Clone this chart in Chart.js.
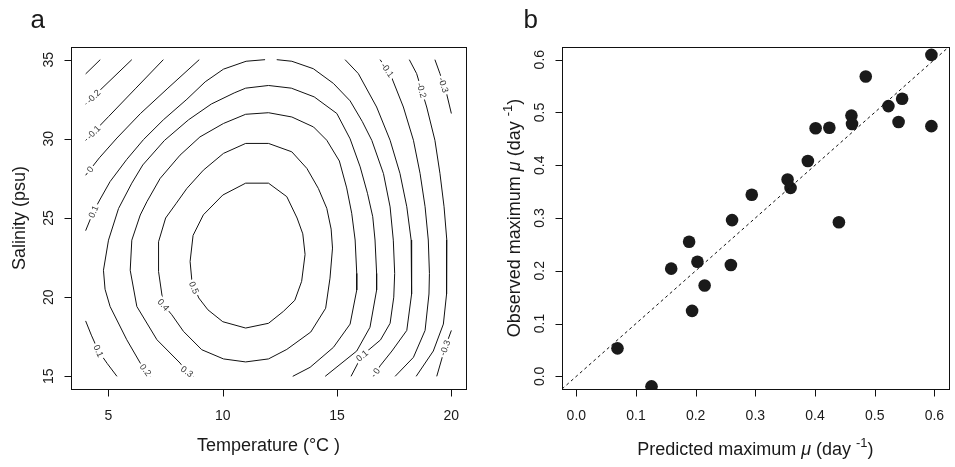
<!DOCTYPE html>
<html><head><meta charset="utf-8">
<script src="https://cdn.jsdelivr.net/npm/chart.js@4.4.0/dist/chart.umd.min.js"></script>
<style>
html,body{margin:0;padding:0;background:#fff}
body{width:955px;height:467px;overflow:hidden;position:relative}
canvas{position:absolute;top:0}
</style>
</head><body>
<canvas id="ca" width="490" height="467" style="left:0px"></canvas>
<canvas id="cb" width="465" height="467" style="left:490px"></canvas>
<script>
// ---------- Panel a: contour lines (Temperature, Salinity) ----------
const cM03a = [[4.0,34.1],[4.64,35.0]];
const cM02a = [[4.0,32.2],[6.02,35.0]];
const cM01a = [[4.0,29.9],[5.0,31.4],[6.2,33.2],[7.4,35.0]];
const c00a  = [[4.0,27.7],[4.6,28.8],[5.37,30.05],[6.4,31.6],[7.6,33.2],[8.97,35.0]];
const c01a  = [[4.0,24.2],[4.34,25.4],[4.64,26.2],[5.07,27.3],[5.8,28.7],[6.53,29.95],[7.4,31.2],[8.43,32.5],[9.23,33.6],[10.03,34.4],[11.02,34.9],[11.85,35.0]];
const c01b  = [[12.36,35.0],[13.02,34.9],[13.96,34.43],[14.84,33.5],[15.57,32.4],[16.1,31.1],[16.52,29.9],[17.03,27.8],[17.32,25.7],[17.46,23.6],[17.52,21.5],[17.48,20.0],[17.32,18.35],[16.9,17.3],[16.08,16.3],[15.61,15.0]];
const c01c  = [[4.0,18.5],[4.25,17.6],[4.56,16.6],[4.95,15.8],[5.37,15.0]];
const c02   = [[6.83,15.0],[6.39,15.84],[5.8,17.31],[5.07,19.41],[4.85,20.5],[4.78,21.7],[5.0,23.6],[5.44,25.6],[6.02,27.2],[6.5,28.35],[7.45,29.9],[8.5,31.2],[9.5,32.2],[10.5,32.9],[11.0,33.2],[12.0,33.37],[13.0,33.2],[14.0,32.65],[14.99,31.6],[15.57,30.0],[16.01,28.23],[16.33,26.56],[16.56,25.08],[16.66,23.61],[16.73,21.5],[16.73,20.45],[16.44,18.1],[15.86,16.6],[14.48,15.0]];
const c03   = [[8.72,15.0],[8.43,15.3],[8.13,15.84],[7.12,17.31],[6.24,19.41],[5.95,21.7],[6.02,23.6],[6.39,25.19],[6.68,26.03],[7.26,27.5],[8.13,28.97],[9.0,30.12],[10.03,30.97],[11.0,31.55],[12.0,31.65],[13.02,31.38],[13.97,30.75],[14.55,29.91],[15.1,28.6],[15.42,26.9],[15.64,25.3],[15.79,23.61],[15.86,21.5],[15.86,20.45],[15.57,18.3],[14.84,16.83],[13.82,15.57],[13.06,15.0]];
const c04   = [[11.0,29.71],[12.0,29.71],[13.02,29.18],[13.68,28.13],[14.18,26.87],[14.55,25.61],[14.74,24.3],[14.8,23.1],[14.69,21.2],[14.5,19.3],[13.85,17.8],[12.8,16.7],[12.0,16.1],[11.0,15.91],[10.03,16.1],[9.08,16.68],[8.28,17.84],[7.77,18.89],[7.4,19.52],[7.19,21.62],[7.19,23.5],[7.5,25.0],[7.95,25.9],[8.43,26.87],[9.15,28.02],[10.03,29.08],[11.0,29.71]];
const c05   = [[11.0,27.2],[12.0,27.2],[12.8,26.35],[13.25,25.0],[13.5,24.0],[13.6,22.7],[13.45,21.0],[13.15,19.8],[12.65,19.1],[12.0,18.35],[11.0,18.05],[10.0,18.45],[9.35,19.2],[8.95,19.95],[8.65,21.0],[8.57,22.25],[8.7,23.9],[9.15,25.2],[10.0,26.45],[11.0,27.2]];
const c00b  = [[15.35,35.0],[15.93,34.12],[16.73,32.01],[17.32,29.91],[17.75,27.82],[18.05,25.71],[18.24,23.61],[18.27,21.5],[18.25,20.2],[18.05,17.9],[17.4,16.6],[16.88,15.66],[16.59,15.0]];
const cM01b = [[16.88,35.0],[17.32,34.12],[17.9,32.01],[18.34,29.91],[18.63,27.82],[18.85,25.71],[18.99,23.61],[19.04,21.5],[19.02,20.2],[18.85,17.9],[18.34,16.2],[17.54,15.0]];
const cM02b = [[18.16,35.0],[18.48,34.12],[18.92,32.01],[19.28,29.91],[19.5,27.82],[19.68,25.71],[19.8,23.61],[19.8,21.5],[19.78,20.2],[19.65,18.3],[19.21,16.6],[18.46,15.0]];
const cM03b = [[19.28,35.0],[19.5,34.12],[19.8,32.8],[20.0,31.6]];
const cM03c = [[20.0,17.9],[19.72,16.8],[19.36,15.0]];

const contourSegments = [cM03a,cM02a,cM01a,c00a,c01a,c01b,c01c,c02,c03,c04,c05,c00b,cM01b,cM02b,cM03b,cM03c];

// contour labels: text, position (T,S), segment index
const labelText = ["-0.2","-0.1","0","0.1","0.5","0.4","0.3","0.2","0.1","0.1","0","-0.3","-0.1","-0.2","-0.3"];
const labelT    = [4.34,4.34,4.2,4.34,8.74,7.4,8.43,6.62,4.56,16.1,16.73,19.72,17.2,18.7,19.66];
const labelS    = [32.67,30.41,28.07,25.4,20.6,19.52,15.3,15.4,16.6,16.3,15.33,16.8,34.35,33.07,33.4];
const labelSeg  = [1,2,3,4,10,9,8,7,6,5,11,15,12,13,14];

const tempTicks = [5,10,15,20];
const salTicks  = [15,20,25,30,35];
const tempRange = [3.36,20.64];
const salRange  = [14.2,35.8];

// ---------- Panel b: observed vs predicted ----------
const predicted = [0.595,0.485,0.546,0.523,0.540,0.595,0.461,0.462,0.401,0.424,0.388,0.354,0.359,0.294,0.261,0.440,0.189,0.203,0.159,0.259,0.215,0.194,0.069,0.126];
const observed  = [0.609,0.568,0.526,0.512,0.482,0.474,0.494,0.478,0.470,0.471,0.408,0.373,0.357,0.344,0.296,0.292,0.255,0.217,0.204,0.211,0.172,0.124,0.053,-0.019];
const muTicks = [0,0.1,0.2,0.3,0.4,0.5,0.6];
const muTickLabels = ["0.0","0.1","0.2","0.3","0.4","0.5","0.6"];
const muRange = [-0.024,0.624];

const FONT = '"Liberation Sans", Arial, Helvetica, sans-serif';

function drawRich(ctx, parts, x, y, align){
  // parts: [text, style] with style 'n' normal, 'i' italic, 's' superscript
  const size = 18;
  const fontFor = s => s==='i' ? 'italic '+size+'px '+FONT : (s==='s' ? (size*0.72)+'px '+FONT : size+'px '+FONT);
  let total = 0;
  parts.forEach(p => { ctx.font = fontFor(p[1]); total += ctx.measureText(p[0]).width; });
  let cx = align==='center' ? x - total/2 : x;
  ctx.textAlign = 'left';
  parts.forEach(p => {
    ctx.font = fontFor(p[1]);
    ctx.fillText(p[0], cx, p[1]==='s' ? y - size*0.42 : y);
    cx += ctx.measureText(p[0]).width;
  });
}

function rAxes(opts){
  return {
    id: 'rAxes',
    afterDraw(chart){
      const ctx = chart.ctx, a = chart.chartArea, xs = chart.scales.x, ys = chart.scales.y;
      ctx.save();
      ctx.strokeStyle = '#111'; ctx.lineWidth = 1;
      ctx.strokeRect(Math.round(a.left)+0.5, Math.round(a.top)+0.5, Math.round(a.right-a.left), Math.round(a.bottom-a.top));
      ctx.fillStyle = '#1a1a1a';
      ctx.font = '14px ' + FONT;
      const bottom = Math.round(a.bottom)+0.5, left = Math.round(a.left)+0.5;
      ctx.beginPath();
      opts.xTicks.forEach(v => { const p = Math.round(xs.getPixelForValue(v))+0.5; ctx.moveTo(p,bottom); ctx.lineTo(p,bottom+7); });
      opts.yTicks.forEach(v => { const p = Math.round(ys.getPixelForValue(v))+0.5; ctx.moveTo(left,p); ctx.lineTo(left-7,p); });
      ctx.stroke();
      ctx.textAlign = 'center'; ctx.textBaseline = 'alphabetic';
      opts.xTicks.forEach((v,i) => ctx.fillText(opts.xLabels[i], xs.getPixelForValue(v), a.bottom+31));
      opts.yTicks.forEach((v,i) => {
        ctx.save(); ctx.translate(a.left-18, ys.getPixelForValue(v)); ctx.rotate(-Math.PI/2);
        ctx.fillText(opts.yLabels[i], 0, 0); ctx.restore();
      });
      // axis titles
      drawRich(ctx, opts.xTitle, (a.left+a.right)/2, a.bottom+opts.xTitleOff, 'center');
      ctx.save(); ctx.translate(a.left-opts.yTitleOff, (a.top+a.bottom)/2); ctx.rotate(-Math.PI/2);
      drawRich(ctx, opts.yTitle, 0, 0, 'center'); ctx.restore();
      // panel letter
      ctx.font = '26px ' + FONT; ctx.textAlign = 'left';
      ctx.fillText(opts.letter, opts.letterX, 28);
      ctx.restore();
    }
  };
}

const contourLabels = {
  id: 'contourLabels',
  afterDatasetsDraw(chart){
    const ctx = chart.ctx, xs = chart.scales.x, ys = chart.scales.y;
    ctx.save();
    ctx.font = '9px ' + FONT; ctx.textAlign = 'center'; ctx.textBaseline = 'middle';
    labelText.forEach((txt,i) => {
      const px = xs.getPixelForValue(labelT[i]), py = ys.getPixelForValue(labelS[i]);
      const seg = contourSegments[labelSeg[i]];
      let best = Infinity, ang = 0;
      for (let k=0; k<seg.length-1; k++){
        const x1 = xs.getPixelForValue(seg[k][0]), y1 = ys.getPixelForValue(seg[k][1]);
        const x2 = xs.getPixelForValue(seg[k+1][0]), y2 = ys.getPixelForValue(seg[k+1][1]);
        const mx = (x1+x2)/2, my = (y1+y2)/2;
        const dx = x2-x1, dy = y2-y1, L2 = dx*dx+dy*dy || 1;
        let t = ((px-x1)*dx + (py-y1)*dy)/L2; t = Math.max(0, Math.min(1, t));
        const d = Math.hypot(x1+t*dx-px, y1+t*dy-py);
        if (d < best){ best = d; ang = Math.atan2(dy, dx); }
      }
      if (ang > Math.PI/2) ang -= Math.PI;
      if (ang < -Math.PI/2) ang += Math.PI;
      ctx.save(); ctx.translate(px, py); ctx.rotate(ang);
      const w = ctx.measureText(txt).width;
      ctx.fillStyle = '#fff'; ctx.fillRect(-w/2-2, -4.5, w+4, 9);
      ctx.fillStyle = '#333'; ctx.fillText(txt, 0, 0.5);
      ctx.restore();
    });
    ctx.restore();
  }
};

Chart.defaults.font.family = FONT;

new Chart(document.getElementById('ca'), {
  type: 'scatter',
  data: {
    datasets: contourSegments.map(seg => ({
      data: seg.map(p => ({x:p[0], y:p[1]})),
      showLine: true, pointRadius: 0, borderColor: '#111', borderWidth: 1, fill: false, tension: 0
    }))
  },
  options: {
    responsive: false, animation: false, devicePixelRatio: 1,
    layout: { padding: { left: 71, right: 24, top: 47, bottom: 78 } },
    scales: {
      x: { type: 'linear', min: tempRange[0], max: tempRange[1], display: false },
      y: { type: 'linear', min: salRange[0], max: salRange[1], display: false }
    },
    plugins: { legend: { display: false }, tooltip: { enabled: false } },
    events: []
  },
  plugins: [contourLabels, rAxes({
    xTicks: tempTicks, xLabels: tempTicks.map(String),
    yTicks: salTicks, yLabels: salTicks.map(String),
    xTitle: [["Temperature (°C )",'n']], xTitleOff: 62,
    yTitle: [["Salinity (psu)",'n']], yTitleOff: 46,
    letter: 'a', letterX: 30.5
  })]
});

new Chart(document.getElementById('cb'), {
  type: 'scatter',
  data: {
    datasets: [
      { data: [{x:muRange[0], y:muRange[0]}, {x:muRange[1], y:muRange[1]}], showLine: true, pointRadius: 0,
        borderColor: '#111', borderWidth: 1, borderDash: [3,3], fill: false },
      { data: predicted.map((p,i) => ({x:p, y:observed[i]})), pointRadius: 6.3, pointBackgroundColor: '#1a1a1a',
        pointBorderWidth: 0, borderColor: '#1a1a1a', showLine: false }
    ]
  },
  options: {
    responsive: false, animation: false, devicePixelRatio: 1,
    layout: { padding: { left: 72, right: 2, top: 47, bottom: 78 } },
    scales: {
      x: { type: 'linear', min: muRange[0], max: muRange[1], display: false },
      y: { type: 'linear', min: muRange[0], max: muRange[1], display: false }
    },
    plugins: { legend: { display: false }, tooltip: { enabled: false } },
    events: []
  },
  plugins: [rAxes({
    xTicks: muTicks, xLabels: muTickLabels,
    yTicks: muTicks, yLabels: muTickLabels,
    xTitle: [["Predicted maximum ",'n'],["μ",'i'],[" (day ",'n'],["-1",'s'],[")",'n']], xTitleOff: 66,
    yTitle: [["Observed maximum ",'n'],["μ",'i'],[" (day ",'n'],["-1",'s'],[")",'n']], yTitleOff: 42,
    letter: 'b', letterX: 33.5
  })]
});
</script>
</body></html>
